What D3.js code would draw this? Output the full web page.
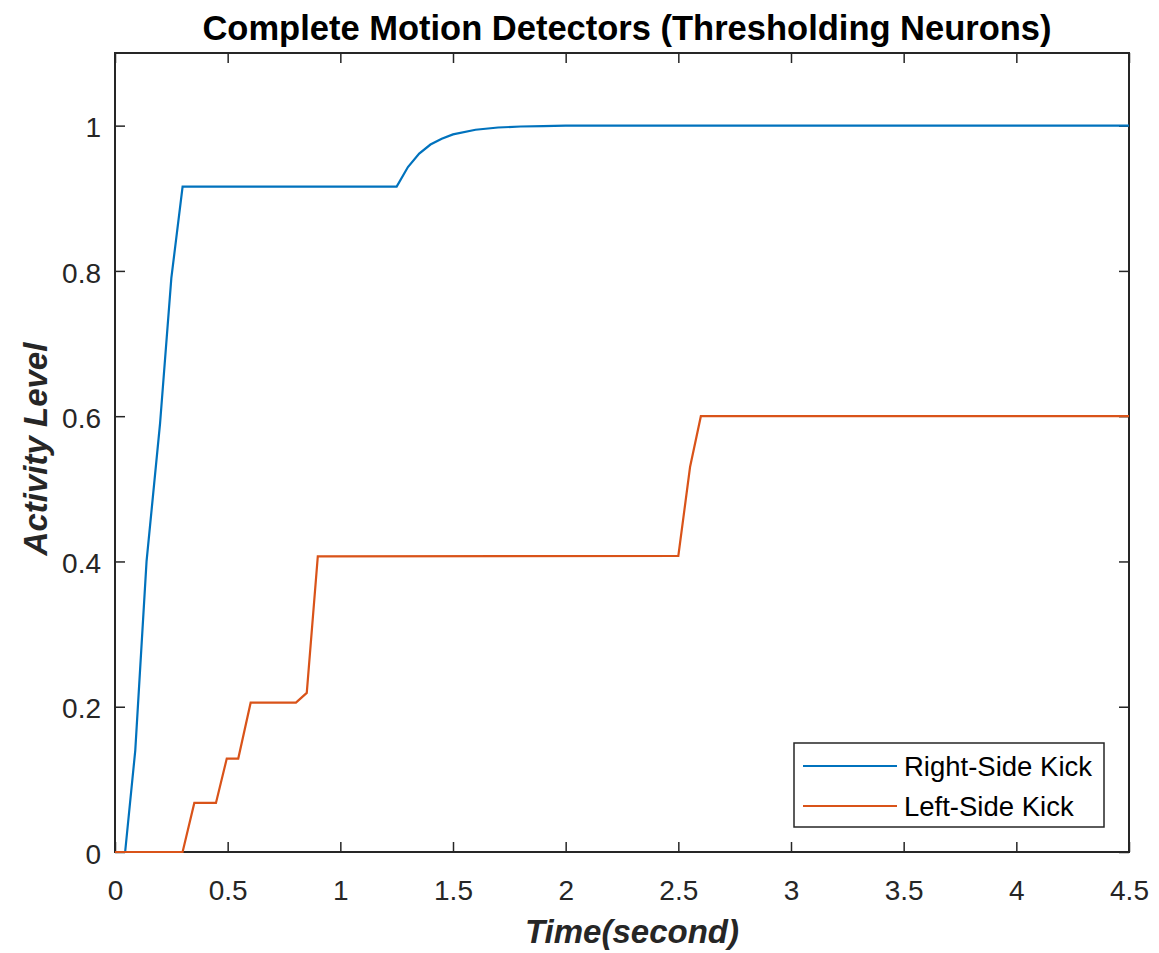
<!DOCTYPE html>
<html>
<head>
<meta charset="utf-8">
<script src="https://cdn.jsdelivr.net/npm/d3@7"></script>
<style>
  html, body { margin: 0; padding: 0; background: #fff; }
  svg { display: block; }
</style>
</head>
<body>
<svg id="chart" width="1159" height="953"></svg>
<script>
// ---- data ----
const titleText = "Complete Motion Detectors (Thresholding Neurons)";
const xLabel = "Time(second)";
const yLabel = "Activity Level";
const seriesNames = ["Right-Side Kick", "Left-Side Kick"];
const xTicks = [0, 0.5, 1, 1.5, 2, 2.5, 3, 3.5, 4, 4.5];
const yTicks = [0, 0.2, 0.4, 0.6, 0.8, 1];

const rightTime  = [0, 0.045, 0.09, 0.14, 0.2, 0.25, 0.3, 1.25, 1.3, 1.35, 1.4, 1.45, 1.5, 1.6, 1.7, 1.8, 1.9, 2.0, 4.5];
const rightValue = [0, 0, 0.14, 0.4, 0.59, 0.79, 0.916, 0.916, 0.943, 0.9615, 0.974, 0.982, 0.988, 0.9943, 0.9974, 0.9988, 0.9994, 1.0, 1.0];

const leftTime  = [0, 0.3, 0.352, 0.448, 0.496, 0.547, 0.602, 0.803, 0.851, 0.9, 2.5, 2.552, 2.6, 4.5];
const leftValue = [0, 0, 0.0675, 0.0675, 0.1286, 0.1286, 0.2056, 0.2056, 0.219, 0.407, 0.4075, 0.53, 0.6, 0.6];

const colors = ["#0072BD", "#D95319"];

// ---- layout ----
const svg = d3.select("#chart");
const L = 115, R = 1129, T = 53, B = 852;
const x = d3.scaleLinear().domain([0, 4.5]).range([L, R]);
const y = d3.scaleLinear().domain([0, 1.1]).range([B, T]);
const axisColor = "#262626";
const fontFam = "'Liberation Sans', Arial, Helvetica, sans-serif";

// box
svg.append("rect").attr("x", L).attr("y", T).attr("width", R - L).attr("height", B - T)
  .attr("fill", "none").attr("stroke", axisColor).attr("stroke-width", 2);

// axes (inward ticks)
const gx = svg.append("g").attr("transform", `translate(0,${B})`)
  .call(d3.axisBottom(x).tickValues(xTicks).tickSizeInner(-10).tickSizeOuter(0).tickPadding(28)
    .tickFormat(d => d3.format("~g")(d)));
const gxTop = svg.append("g").attr("transform", `translate(0,${T})`)
  .call(d3.axisTop(x).tickValues(xTicks).tickSizeInner(-10).tickSizeOuter(0).tickFormat(""));
const gy = svg.append("g").attr("transform", `translate(${L},0)`)
  .call(d3.axisLeft(y).tickValues(yTicks).tickSizeInner(-10).tickSizeOuter(0).tickPadding(14)
    .tickFormat(d => d3.format("~g")(d)));
const gyR = svg.append("g").attr("transform", `translate(${R},0)`)
  .call(d3.axisRight(y).tickValues(yTicks).tickSizeInner(-10).tickSizeOuter(0).tickFormat(""));

[gx, gxTop, gy, gyR].forEach(g => {
  g.select(".domain").remove();
  g.selectAll(".tick line").attr("stroke", axisColor).attr("stroke-width", 1.5);
  g.selectAll(".tick text").attr("fill", axisColor).style("font-family", fontFam).style("font-size", "28px");
});
gx.selectAll(".tick text").attr("dy", "0.71em");
gy.selectAll(".tick text").attr("dy", "0.4em");

// data lines (drawn over the axes)
const line = d3.line().x(d => x(d[0])).y(d => y(d[1]));
const rightData = rightTime.map((t, i) => [t, rightValue[i]]);
const leftData = leftTime.map((t, i) => [t, leftValue[i]]);
svg.append("path").datum(rightData).attr("d", line).attr("fill", "none")
  .attr("stroke", colors[0]).attr("stroke-width", 2.2);
svg.append("path").datum(leftData).attr("d", line).attr("fill", "none")
  .attr("stroke", colors[1]).attr("stroke-width", 2.2);

// title
svg.append("text").attr("x", 627).attr("y", 40).attr("text-anchor", "middle")
  .style("font-family", fontFam).style("font-weight", "bold").style("font-size", "34.5px")
  .attr("fill", "#000").text(titleText);

// axis labels
svg.append("text").attr("x", 632).attr("y", 943).attr("text-anchor", "middle")
  .style("font-family", fontFam).style("font-weight", "bold").style("font-style", "italic")
  .style("font-size", "33px").attr("fill", axisColor).text(xLabel);
svg.append("text").attr("transform", `translate(47,449) rotate(-90)`).attr("text-anchor", "middle")
  .style("font-family", fontFam).style("font-weight", "bold").style("font-style", "italic")
  .style("font-size", "33px").attr("fill", axisColor).text(yLabel);

// legend
const lg = svg.append("g");
lg.append("rect").attr("x", 794).attr("y", 743).attr("width", 310).attr("height", 84)
  .attr("fill", "#fff").attr("stroke", axisColor).attr("stroke-width", 1.5);
seriesNames.forEach((name, i) => {
  const yy = 766 + i * 40;
  lg.append("line").attr("x1", 803).attr("x2", 897).attr("y1", yy).attr("y2", yy)
    .attr("stroke", colors[i]).attr("stroke-width", 2.2);
  lg.append("text").attr("x", 904).attr("y", yy).attr("dy", "0.36em")
    .style("font-family", fontFam).style("font-size", "27.5px").attr("fill", "#000").text(name);
});
</script>
</body>
</html>
